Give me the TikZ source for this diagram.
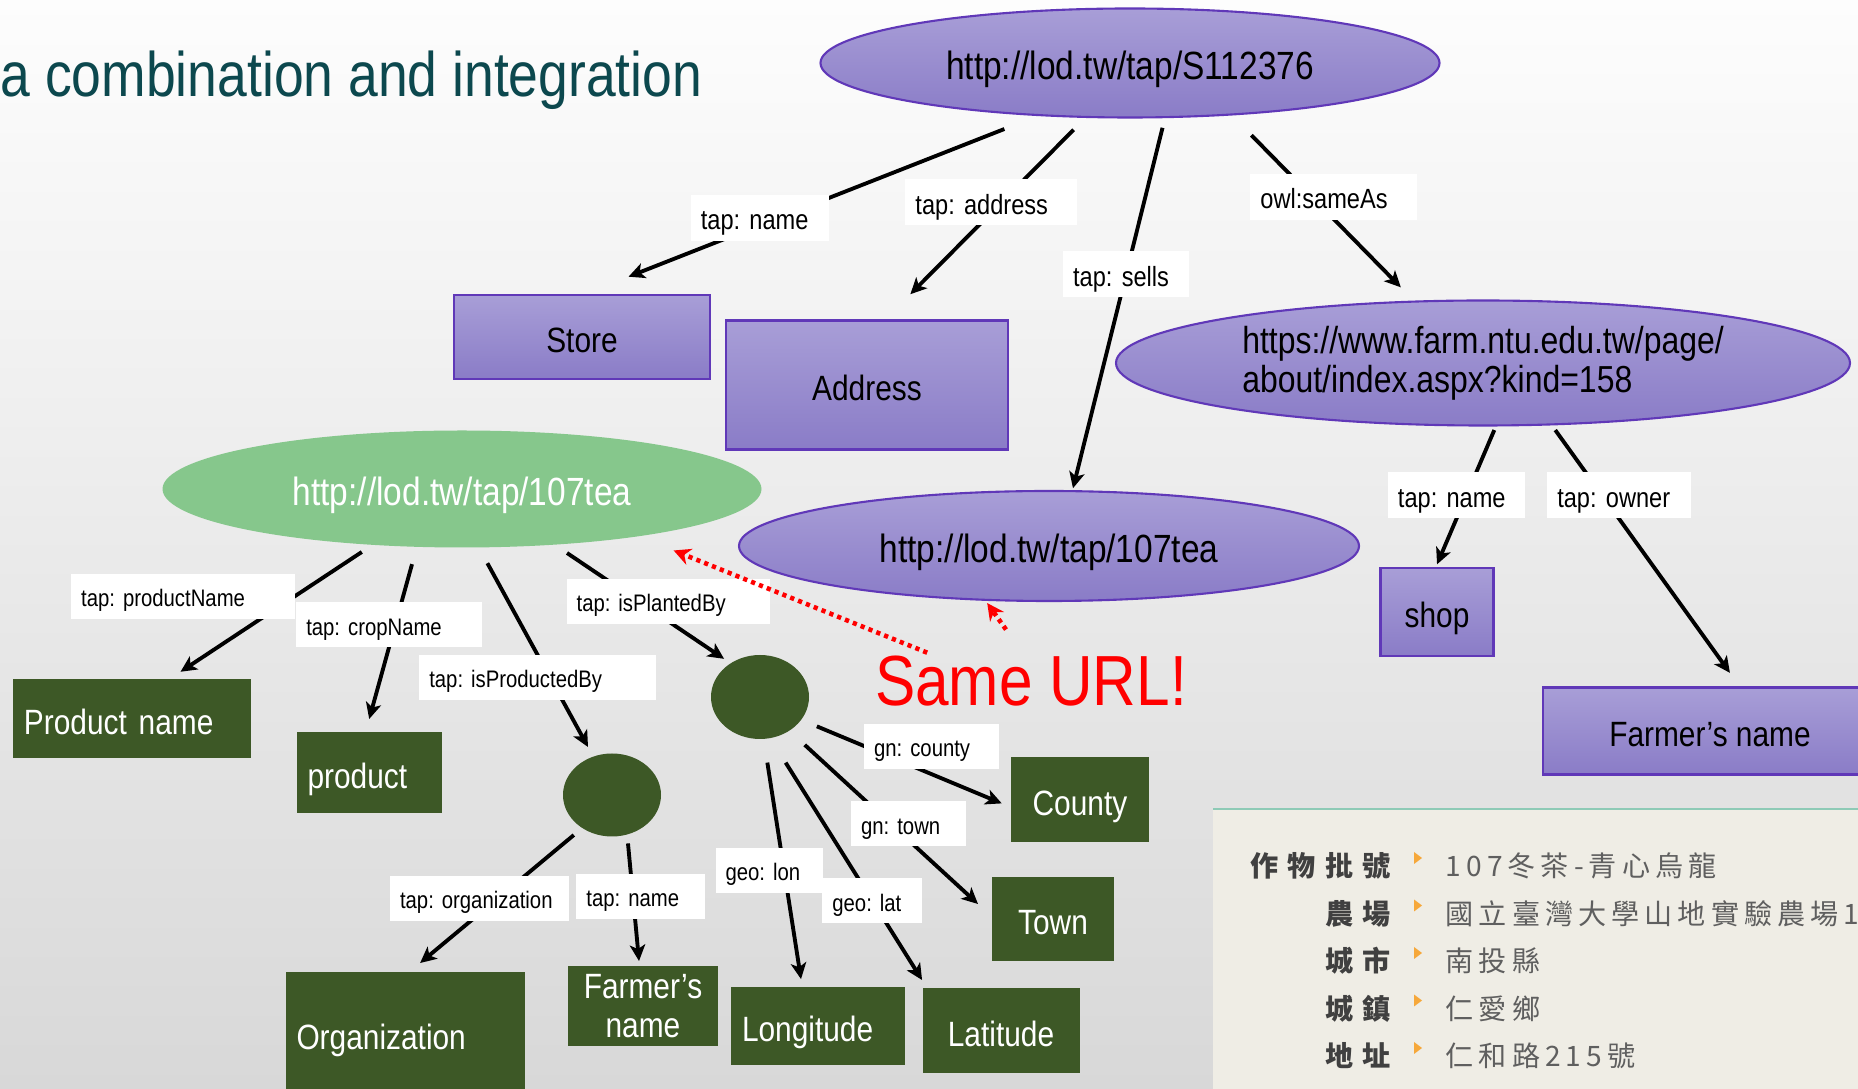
\documentclass[tikz,border=0pt]{standalone}
\usepackage{fontspec}
\setmainfont{Liberation Sans}[FakeStretch=0.85]
\newfontfamily\cjkhead{Noto Sans CJK TC}[LetterSpace=32]
\newfontfamily\cjkbody{Noto Sans CJK TC}[LetterSpace=18]
\usetikzlibrary{arrows.meta,shapes.geometric}
\frenchspacing

\definecolor{ptop}{RGB}{168,158,215}
\definecolor{pbot}{RGB}{138,124,199}
\definecolor{pline}{RGB}{96,56,184}
\definecolor{leafgreen}{RGB}{61,88,38}
\definecolor{mint}{RGB}{134,199,140}
\definecolor{titleteal}{RGB}{12,72,78}
\definecolor{panelfill}{RGB}{239,237,229}
\definecolor{panelline}{RGB}{142,202,182}
\definecolor{bulletorange}{RGB}{246,168,58}
\definecolor{bgtop}{RGB}{253,253,253}
\definecolor{bgbot}{RGB}{216,216,216}

\tikzset{
	oval/.style={ellipse, inner sep=0pt, outer sep=0pt, font=\fontsize{11.2}{12}\selectfont},
	onel/.style={text height=11.2pt, text depth=1.6pt},
	res/.style={oval, draw=pline, line width=0.6pt, top color=ptop, bottom color=pbot},
	same/.style={oval, onel, fill=mint, text=white},
	box/.style={rectangle, draw=pline, line width=0.6pt, top color=ptop, bottom color=pbot,
			inner sep=0pt, outer sep=0pt, text height=10pt, text depth=1.4pt,
			font=\fontsize{10}{11}\selectfont},
	leaf/.style={rectangle, fill=leafgreen, text=white, inner xsep=0.11cm, inner ysep=0pt,
			outer sep=0pt, font=\fontsize{10}{11.1}\selectfont},
	leafC/.style={leaf, text height=10pt, text depth=1.4pt},
	leafL/.style={leafC, text width=#1, align=left},
	blank/.style={ellipse, fill=leafgreen, inner sep=0pt, outer sep=0pt},
	lbl/.style={rectangle, fill=white, inner xsep=0.1cm, inner ysep=0pt, outer sep=0pt,
			text width=#1, align=left},
	lblA/.style={lbl=#1, minimum height=0.46cm, text height=7.9pt, text depth=1.1pt,
			font=\fontsize{7.9}{9}\selectfont},
	lblB/.style={lbl=#1, minimum height=0.45cm, text height=6.8pt, text depth=0.95pt,
			font=\fontsize{6.8}{8}\selectfont},
	arr/.style={-{Stealth[length=4.6pt,width=4.4pt,inset=1.2pt]}, line width=1.1pt},
	hint/.style={-{Stealth[length=4.8pt,width=4.8pt]}, red, line width=1.3pt,
			dash pattern=on 1.2pt off 1.2pt},
	key/.style={anchor=east, inner sep=0pt, text={rgb,255:red,64;green,64;blue,64},
			font=\fontsize{8}{9}\cjkhead\bfseries},
	val/.style={anchor=west, inner sep=0pt, text={rgb,255:red,95;green,95;blue,95},
			font=\fontsize{8}{9}\cjkbody}
}

\begin{document}
\begin{tikzpicture}
	\clip (0,0) rectangle (18.58,-10.89);
	\fill[top color=bgtop, bottom color=bgbot] (0,0) rectangle (18.58,-10.89);

	\node[anchor=base west, inner sep=0pt, text=titleteal, font=\fontsize{17.9}{20}\selectfont]
		(title) at (0,-0.97) {a combination and integration};

	% resources
	\node[res, onel, minimum width=6.19cm, minimum height=1.09cm] (S) at (11.30,-0.63) {http://lod.tw/tap/S112376};
	\node[res, minimum width=7.34cm, minimum height=1.25cm, align=left, font=\fontsize{10.7}{11.1}\selectfont]
		(farm) at (14.83,-3.63) {https://www.farm.ntu.edu.tw/page/\\about/index.aspx?kind=158};
	\node[res, onel, minimum width=6.20cm, minimum height=1.10cm] (tea) at (10.49,-5.46) {http://lod.tw/tap/107tea};
	\node[same, minimum width=5.99cm, minimum height=1.17cm] (teaG) at (4.62,-4.89) {http://lod.tw/tap/107tea};

	\node[box, minimum width=2.56cm, minimum height=0.84cm] (store) at (5.82,-3.37) {Store};
	\node[box, minimum width=2.82cm, minimum height=1.29cm] (address) at (8.67,-3.85) {Address};
	\node[box, minimum width=1.13cm, minimum height=0.88cm] (shop) at (14.37,-6.12) {shop};
	\node[box, minimum width=3.34cm, minimum height=0.87cm] (owner) at (17.10,-7.31) {Farmer’s name};

	% literals
	\node[leafL=2.16cm, minimum height=0.79cm] (pname) at (1.32,-7.19) {Product name};
	\node[leafL=1.23cm, minimum height=0.81cm] (product) at (3.69,-7.73) {product};
	\node[leafL=2.17cm, minimum height=1.24cm] (org) at (4.05,-10.34) {Organization};
	\node[leaf, minimum width=1.50cm, minimum height=0.80cm, align=center] (fname) at (6.43,-10.06) {Farmer’s\\name};
	\node[leafL=1.52cm, minimum height=0.78cm] (lon) at (8.18,-10.26) {Longitude};
	\node[leafC, minimum width=1.57cm, minimum height=0.85cm] (lat) at (10.01,-10.31) {Latitude};
	\node[leafC, minimum width=1.38cm, minimum height=0.85cm] (county) at (10.80,-8.00) {County};
	\node[leafC, minimum width=1.22cm, minimum height=0.84cm] (town) at (10.53,-9.19) {Town};

	\node[blank, minimum width=0.98cm, minimum height=0.84cm] (planter) at (7.60,-6.97) {};
	\node[blank, minimum width=0.98cm, minimum height=0.83cm] (producer) at (6.12,-7.95) {};

	\node[inner sep=0pt, text=red, font=\fontsize{20.2}{22}\selectfont] (url) at (10.31,-6.815) {Same URL!};

	% properties
	\draw[arr, shorten <=0.38cm, shorten >=0.50cm] (S.210.8) --
		node[lblA=1.18cm, pos=.57, xshift=-0.19cm] (sname) {tap: name} (store.north);
	\draw[arr, shorten <=0.18cm, shorten >=0.37cm] (S.231.5) --
		node[lblA=1.52cm, pos=.42, xshift=-0.10cm] (saddr) {tap: address} (address.75.65);
	\draw[arr, shorten <=0.11cm, shorten >=0.03cm] (S.303.4) --
		node[lblA=1.06cm, pos=.42] (ssells) {tap: sells} (tea.67.05);
	\draw[arr, shorten <=0.29cm, shorten >=0.20cm] (S.333.5) --
		node[lblA=1.47cm, pos=.44, xshift=0.22cm] (ssame) {owl:sameAs} (farm.138.75);
	\draw[arr, shorten <=0.05cm, shorten >=0.04cm] (farm.282.6) --
		node[lblA=1.17cm, pos=.49, xshift=-0.10cm] (fname2) {tap: name} (shop.92.2);
	\draw[arr, shorten <=0.07cm, shorten >=0.18cm] (farm.318.7) --
		node[lblA=1.24cm, pos=.27, xshift=0.17cm] (fowner) {tap: owner} (owner.55.14);

	\draw[arr, shorten <=0.13cm, shorten >=0.14cm] (teaG.212.1) --
		node[lblB=2.04cm, pos=.38, anchor=east] (tpname) {tap: productName} (pname.47.18);
	\draw[arr, shorten <=0.18cm, shorten >=0.14cm] (teaG.232.7) --
		node[lblB=1.66cm, pos=.42, xshift=-0.06cm] (tcrop) {tap: cropName} (product.95.4);
	\draw[arr, shorten <=0.18cm, shorten >=0.11cm] (teaG.286.7) --
		node[lblB=2.17cm, pos=.62, xshift=-0.12cm] (tprod) {tap: isProductedBy} (producer.116.1);
	\draw[arr, shorten <=0.15cm, shorten >=0.08cm] (teaG.329.6) --
		node[lblB=1.83cm, pos=.48, xshift=0.29cm] (tplant) {tap: isPlantedBy} (planter.131.4);

	\draw[arr, shorten <=0.11cm, shorten >=0.14cm] (producer.228.1) --
		node[lblB=1.59cm, pos=.49, xshift=-0.18cm] (porg) {tap: organization} (org.86.1);
	\draw[arr, shorten <=0.09cm, shorten >=0.05cm] (producer.291) --
		node[lblB=1.09cm, pos=.47, xshift=0.08cm] (pname2) {tap: name} (fname.95);

	\draw[arr, shorten <=0.24cm, shorten >=0.08cm] (planter.275.9) --
		node[lblB=0.87cm, pos=.53, xshift=-0.15cm] (glon) {geo: lon} (lon.112.05);
	\draw[arr, shorten <=0.29cm, shorten >=0.10cm] (planter.284.2) --
		node[lblB=0.80cm, pos=.65] (glat) {geo: lat} (lat.150);
	\draw[arr, shorten <=0.21cm, shorten >=0.19cm] (planter.311.2) --
		node[lblB=0.95cm, pos=.50, xshift=0.18cm] (gtown) {gn: town} (town.178);
	\draw[arr, shorten <=0.17cm, shorten >=0.10cm] (planter.331.6) --
		node[lblB=1.15cm, pos=.30, anchor=west] (gcounty) {gn: county} (county.186.4);

	\draw[hint, shorten <=0.08cm, shorten >=0.38cm] (url.165.5) -- (teaG.345.9);
	\draw[hint, shorten <=0.32cm, shorten >=0.04cm] (url.104.7) -- (tea.220);

	% crop record
	\fill[panelfill] (12.13,-8.09) rectangle (18.58,-10.89);
	\draw[panelline, line width=0.6pt] (12.13,-8.09) -- (18.58,-8.09);
	\foreach \k/\v [count=\i] in {作物批號/107冬茶-青心烏龍, 農場/國立臺灣大學山地實驗農場1,
			城市/南投縣, 城鎮/仁愛鄉, 地址/仁和路215號}{
		\pgfmathsetmacro\yy{-8.66-0.475*(\i-1)}
		\node[key] (key\i) at (13.91,\yy) {\k};
		\node[val] (val\i) at (14.45,\yy) {\v};
		\fill[bulletorange] (14.14,{\yy+0.14}) -- ++(0,-0.12) -- ++(0.08,0.06) -- cycle;
	}
\end{tikzpicture}
\end{document}
